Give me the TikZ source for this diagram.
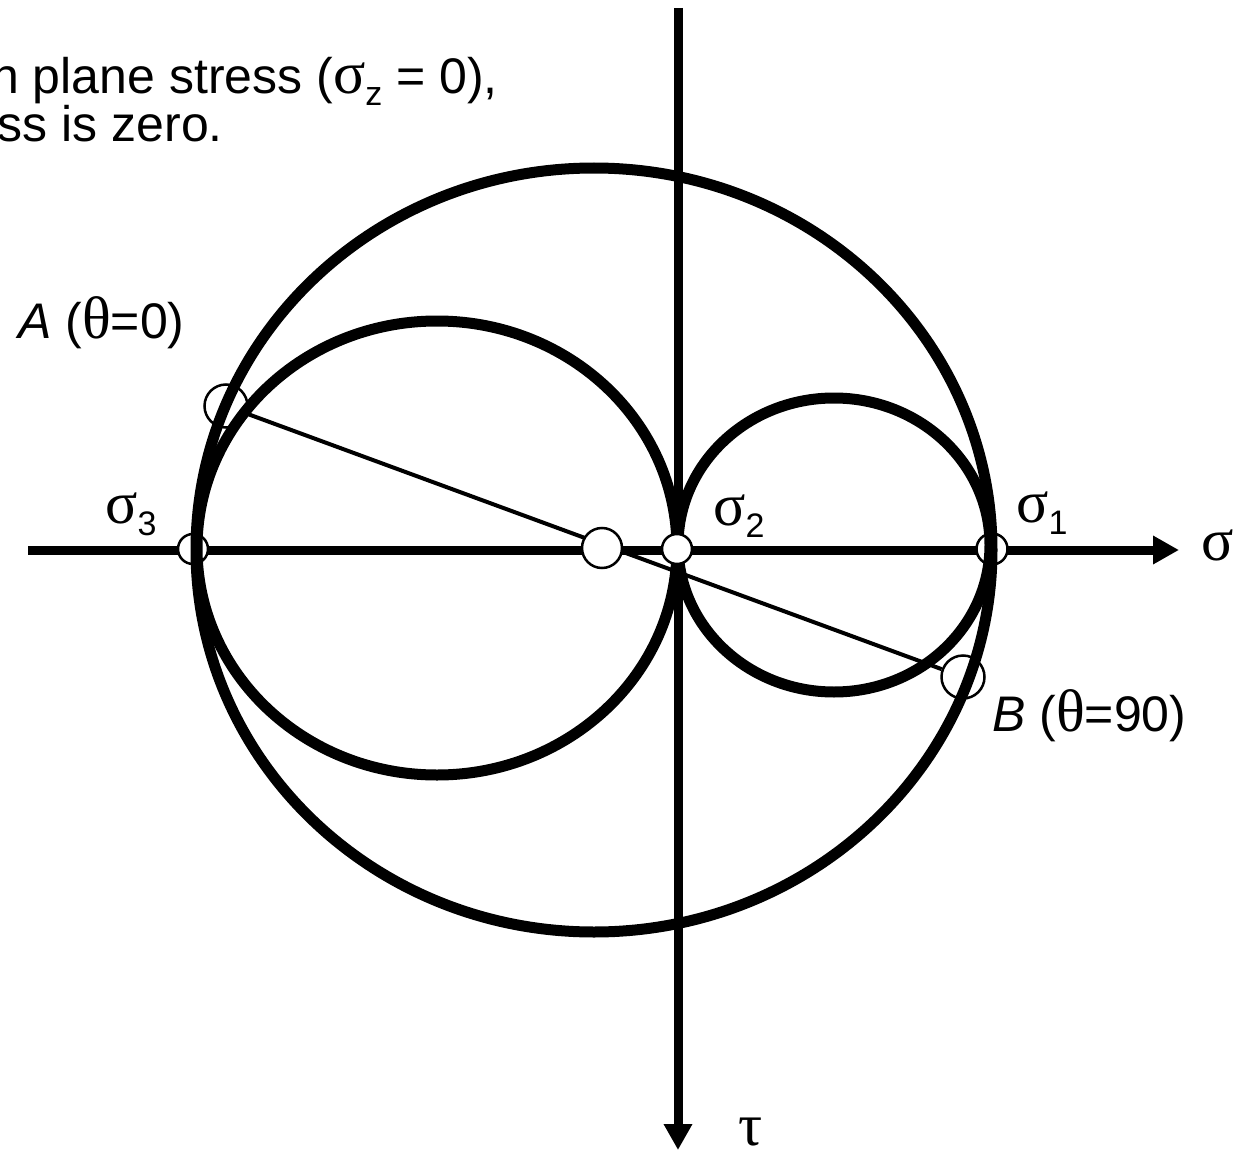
\documentclass[tikz,border=0pt]{standalone}
\usepackage{fontspec}
\setmainfont{Liberation Sans}
\newfontfamily\grk[Scale=1.2]{Liberation Serif}
\usetikzlibrary{arrows.meta}
\newcommand\lowsub[1]{\raisebox{-12pt}{\fontsize{34}{34}\selectfont #1}}
\begin{document}
\begin{tikzpicture}[x=1pt,y=-1pt,
  axis/.style={line width=9pt, -{Triangle[length=26pt,width=27pt]}},
  mohr/.style={line width=11pt},
  dot/.style={circle, draw, line width=2.5pt, fill=white, inner sep=0pt},
  lbl/.style={font=\fontsize{50}{52}\selectfont, inner sep=0pt}]
\useasboundingbox (0,0) rectangle (1243,1153);
% axes
\coordinate (hs) at (28,550);
\coordinate (he) at (1179,550);
\coordinate (vs) at (678,8);
\coordinate (ve) at (678,1150);
\draw[axis] (hs) -- (he);
\draw[axis] (vs) -- (ve);
% points
\node[dot, minimum size=43pt] (A) at (226,406) {};
\node[dot, minimum size=43pt] (B) at (963,677) {};
\draw[line width=4pt] (A) -- (B);
\node[dot, minimum size=30pt] (S3) at (193,549) {};
\node[dot, minimum size=31pt] (S1) at (992,549) {};
\node[dot, minimum size=40pt] (C) at (602,548) {};
% Mohr circles
\draw[mohr] (594,550) ellipse [x radius=398, y radius=382];
\draw[mohr] (437,548) ellipse [x radius=240, y radius=227];
\draw[mohr] (834,545) ellipse [x radius=156, y radius=147];
\node[dot, minimum size=30pt] (S2) at (677,549) {};
% texts
\node[lbl, anchor=base east] (t1) at (498,94) {n plane stress ({\grk σ}\lowsub{z} = 0),};
\node[lbl, anchor=base east] (t2) at (223,142) {ss is zero.};
\node[lbl, anchor=base west] (la) at (18,338) {\textit{A} ({\grk θ}=0)};
\node[lbl, anchor=base west] (lb) at (992,731) {\textit{B} ({\grk θ}=90)};
\node[lbl, anchor=base west] (l3) at (105,523) {{\grk σ}\lowsub{3}};
\node[lbl, anchor=base west] (l1) at (1016,522) {{\grk σ}\lowsub{1}};
\node[lbl, anchor=base west] (l2) at (713,525) {{\grk σ}\lowsub{2}};
\node[lbl, anchor=base west] (sig) at (1201,560) {\grk σ};
\node[lbl, anchor=base west] (tau) at (738,1145) {\grk τ};
\end{tikzpicture}
\end{document}
